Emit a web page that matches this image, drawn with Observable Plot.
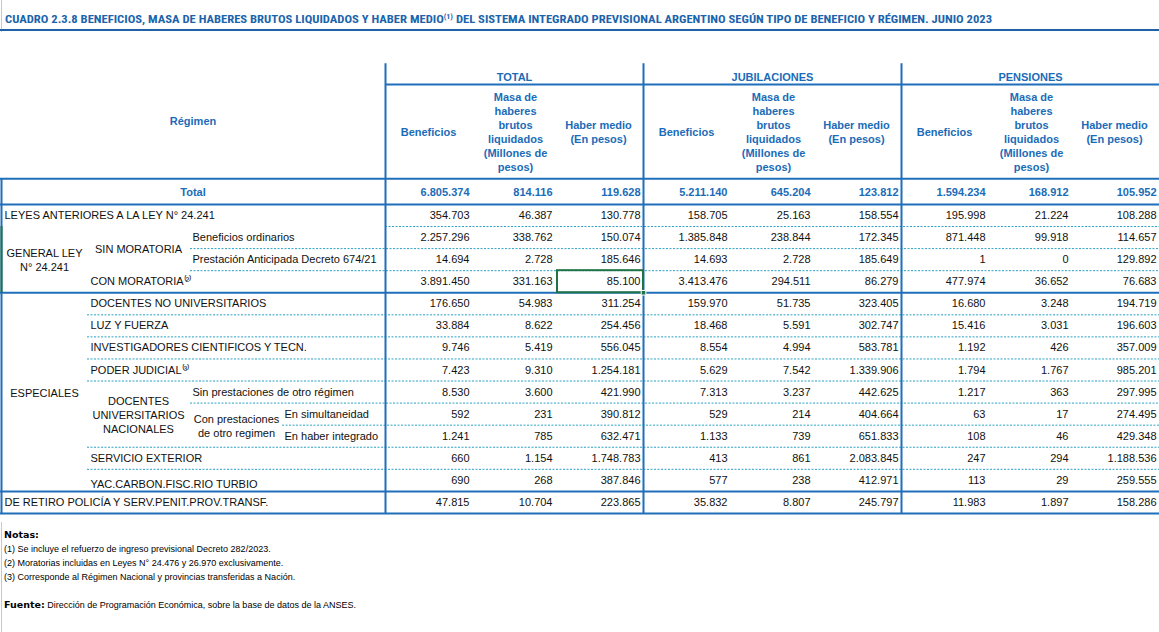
<!DOCTYPE html>
<html><head><meta charset="utf-8">
<script src="https://cdn.jsdelivr.net/npm/d3@7"></script>
<script src="https://cdn.jsdelivr.net/npm/@observablehq/plot@0.6"></script>
<style>
html,body{margin:0;padding:0;background:#fff;}
body{width:1159px;height:632px;position:relative;overflow:hidden;font-family:"Liberation Sans",Arial,sans-serif;}
#gridline{position:absolute;left:1px;top:0;width:1px;height:632px;background:#c8c8c8;}
#title{position:absolute;left:0;top:0;width:1159px;height:29px;border-bottom:2px solid #1f63a6;}
#title span{position:absolute;left:5px;top:13px;line-height:13px;white-space:nowrap;font-family:"Liberation Sans Narrow","Roboto Condensed","Arial Narrow","Liberation Sans",sans-serif;font-weight:bold;font-size:11px;color:#1b64ab;transform-origin:0 0;}
#title sup{font-size:7px;vertical-align:4px;line-height:0;}
#chart{position:absolute;left:0;top:32px;}
#notes{position:absolute;left:4px;top:528px;font-size:9px;color:#000;line-height:14px;font-family:"Liberation Sans",Arial,sans-serif;}
#notes b{font-family:"DejaVu Sans",Verdana,sans-serif;font-size:9.5px;}
</style></head>
<body>
<div id="gridline"></div>
<div id="title"><span id="ttl">CUADRO 2.3.8 BENEFICIOS, MASA DE HABERES BRUTOS LIQUIDADOS Y HABER MEDIO<sup>(1)</sup> DEL SISTEMA INTEGRADO PREVISIONAL ARGENTINO SEGÚN TIPO DE BENEFICIO Y RÉGIMEN. JUNIO 2023</span></div>
<div id="chart"></div>
<div id="notes">
<div><b>Notas:</b></div>
<div>(1) Se incluye el refuerzo de ingreso previsional Decreto 282/2023.</div>
<div>(2) Moratorias incluidas en Leyes N° 24.476 y 26.970 exclusivamente.</div>
<div>(3) Corresponde al Régimen Nacional y provincias transferidas a Nación.</div>
<div>&nbsp;</div>
<div><b>Fuente:</b> Dirección de Programación Económica, sobre la base de datos de la ANSES.</div>
</div>
<script>
// ---------------- DATA ----------------
const groups = ["TOTAL", "JUBILACIONES", "PENSIONES"];
const measures = ["Beneficios", "Masa de\nhaberes\nbrutos\nliquidados\n(Millones de\npesos)", "Haber medio\n(En pesos)"];
const rowLabels = [
  "LEYES ANTERIORES A LA LEY N° 24.241",
  "Beneficios ordinarios",
  "Prestación Anticipada Decreto 674/21",
  "CON MORATORIA⁽²⁾",
  "DOCENTES NO UNIVERSITARIOS",
  "LUZ Y FUERZA",
  "INVESTIGADORES CIENTIFICOS Y TECN.",
  "PODER JUDICIAL⁽³⁾",
  "Sin prestaciones de otro régimen",
  "En simultaneidad",
  "En haber integrado",
  "SERVICIO EXTERIOR",
  "YAC.CARBON.FISC.RIO TURBIO",
  "DE RETIRO POLICÍA Y SERV.PENIT.PROV.TRANSF."
];
const rowLevel = [0, 2, 2, 1, 1, 1, 1, 1, 2, 3, 3, 1, 1, 0];
const spanLabels = [
  {text: "GENERAL LEY\nN° 24.241", r1: 1, r2: 3, col: 0},
  {text: "SIN MORATORIA", r1: 1, r2: 2, col: 1},
  {text: "ESPECIALES", r1: 4, r2: 12, col: 0},
  {text: "DOCENTES\nUNIVERSITARIOS\nNACIONALES", r1: 8, r2: 10, col: 1},
  {text: "Con prestaciones\nde otro regimen", r1: 9, r2: 10, col: 2}
];
const totalLabel = "Total";
const headerLabel = "Régimen";
const totalsRow = [6805374, 814116, 119628, 5211140, 645204, 123812, 1594234, 168912, 105952];

const benefTotal = [354703, 2257296, 14694, 3891450, 176650, 33884, 9746, 7423, 8530, 592, 1241, 660, 690, 47815];
const masaTotal  = [46387, 338762, 2728, 331163, 54983, 8622, 5419, 9310, 3600, 231, 785, 1154, 268, 10704];
const haberTotal = [130778, 150074, 185646, 85100, 311254, 254456, 556045, 1254181, 421990, 390812, 632471, 1748783, 387846, 223865];
const benefJub   = [158705, 1385848, 14693, 3413476, 159970, 18468, 8554, 5629, 7313, 529, 1133, 413, 577, 35832];
const masaJub    = [25163, 238844, 2728, 294511, 51735, 5591, 4994, 7542, 3237, 214, 739, 861, 238, 8807];
const haberJub   = [158554, 172345, 185649, 86279, 323405, 302747, 583781, 1339906, 442625, 404664, 651833, 2083845, 412971, 245797];
const benefPen   = [195998, 871448, 1, 477974, 16680, 15416, 1192, 1794, 1217, 63, 108, 247, 113, 11983];
const masaPen    = [21224, 99918, 0, 36652, 3248, 3031, 426, 1767, 363, 17, 46, 294, 29, 1897];
const haberPen   = [108288, 114657, 129892, 76683, 194719, 196603, 357009, 985201, 297995, 274495, 429348, 1188536, 259555, 158286];

// selected spreadsheet cell (row index, value column index)
const selectedCell = {row: 3, col: 2};

// ---------------- LAYOUT ----------------
const W = 1159, H = 490;
const groupStart = [385, 643, 901];
const groupWidth = 258;
const valueRight = [84, 167, 255];
const headCenter = [43, 130, 213];
const levelX = [4, 90, 192, 284];
const spanColCenter = [44, 138, 236];
const labelDy = {12: 4};
const hdrTop = -6.875, hdrGroupLine = -5.93, hdrGroupText = -6.27, hdrSubText = -3.79, hdrRegimen = -4.27;
const hdrBottom = -1.67, totalRowY = -1.05;
const solidRows = [hdrBottom, -0.5, 3.5, 12.5, 13.5];
const dashed = [
  {y: 0.5, x1: 385}, {y: 1.5, x1: 190}, {y: 2.5, x1: 190},
  {y: 4.5, x1: 87}, {y: 5.5, x1: 87}, {y: 6.5, x1: 87}, {y: 7.5, x1: 87},
  {y: 8.5, x1: 190}, {y: 9.5, x1: 282}, {y: 10.5, x1: 87}, {y: 11.5, x1: 87}
];
const BLUE = "#1f6fba", TXTBLUE = "#1b6cb8", TEAL = "#2aa3c4", GREEN = "#217346";

// ---------------- BUILD ----------------
const fmt = d3.formatLocale({decimal: ",", thousands: ".", grouping: [3], currency: ["$", ""]}).format(",d");
const series = [benefTotal, masaTotal, haberTotal, benefJub, masaJub, haberJub, benefPen, masaPen, haberPen];
const cells = [];
series.forEach((arr, c) => arr.forEach((v, r) => cells.push({row: r, col: c, value: v})));
const totalCells = totalsRow.map((v, c) => ({row: totalRowY, col: c, value: v}));
const colX = c => groupStart[Math.floor(c / 3)] + valueRight[c % 3];
const rows = rowLabels.map((label, i) => ({label, row: i, level: rowLevel[i]}));
const subHeads = [];
groups.forEach((g, gi) => measures.forEach((m, mi) => subHeads.push({g: gi, m: mi, text: m})));

const chart = Plot.plot({
  width: W, height: H, margin: 0,
  x: {type: "linear", domain: [0, W], range: [0, W], axis: null},
  y: {type: "linear", domain: [0, 13], range: [183, 183 + 13 * 22.07], axis: null},
  style: {fontFamily: "'Liberation Sans', Arial, sans-serif", fontSize: "11px", background: "white", overflow: "visible"},
  marks: [
    // dashed separators
    Plot.ruleY(dashed, {y: "y", x1: "x1", x2: W, stroke: TEAL, strokeWidth: 1, strokeDasharray: "2,1.5"}),
    // solid separators
    Plot.ruleY(solidRows, {y: d => d, x1: 0, x2: W, stroke: BLUE, strokeWidth: 2}),
    Plot.ruleY([hdrGroupLine], {y: d => d, x1: groupStart[0], x2: W, stroke: BLUE, strokeWidth: 2}),
    Plot.ruleX(groupStart, {x: d => d, y1: hdrTop, y2: 13.5, stroke: BLUE, strokeWidth: 2}),
    Plot.ruleX([1], {x: d => d, y1: hdrBottom, y2: 13.5, stroke: BLUE, strokeWidth: 2}),
    Plot.ruleX([1], {x: d => d, y1: 0.5, y2: 3.5, stroke: GREEN, strokeWidth: 2}),
    // header
    Plot.text([headerLabel], {x: groupStart[0] / 2, y: hdrRegimen, text: d => d, fill: TXTBLUE, fontWeight: "bold"}),
    Plot.text(groups, {x: (d, i) => groupStart[i] + groupWidth / 2, y: hdrGroupText, text: d => d, fill: TXTBLUE, fontWeight: "bold"}),
    Plot.text(subHeads, {x: d => groupStart[d.g] + headCenter[d.m], y: hdrSubText, text: "text", fill: TXTBLUE, fontWeight: "bold", lineHeight: 14 / 11}),
    // total row
    Plot.text([totalLabel], {x: groupStart[0] / 2, y: totalRowY, text: d => d, fill: TXTBLUE, fontWeight: "bold"}),
    Plot.text(totalCells, {x: d => colX(d.col), y: "row", text: d => fmt(d.value), textAnchor: "end", fill: TXTBLUE, fontWeight: "bold"}),
    // row labels
    Plot.text(rows, {x: d => levelX[d.level], y: d => d.row + (labelDy[d.row] || 0) / 22.07, text: "label", textAnchor: "start", fill: "#111"}),
    Plot.text(spanLabels, {x: d => spanColCenter[d.col], y: d => (d.r1 + d.r2) / 2, text: "text", fill: "#111", lineHeight: 14 / 11}),
    // values
    Plot.text(cells, {x: d => colX(d.col), y: "row", text: d => fmt(d.value), textAnchor: "end", fill: "#111"}),
    // selection box
    Plot.rect([selectedCell], {x1: d => groupStart[0] + 172, x2: d => colX(d.col) + 3, y1: d => d.row - 0.5, y2: d => d.row + 0.5, fill: "none", stroke: GREEN, strokeWidth: 2}),
    Plot.dot([selectedCell], {x: d => colX(d.col) + 3, y: d => d.row + 0.5, symbol: "square", r: 2.6, fill: GREEN, stroke: "white", strokeWidth: 1})
  ]
});
document.getElementById("chart").appendChild(chart);

// fit title width like the reference
const ttl = document.getElementById("ttl");
const w = ttl.getBoundingClientRect().width;
ttl.style.transform = `scaleX(${987 / w})`;
</script>
</body></html>
